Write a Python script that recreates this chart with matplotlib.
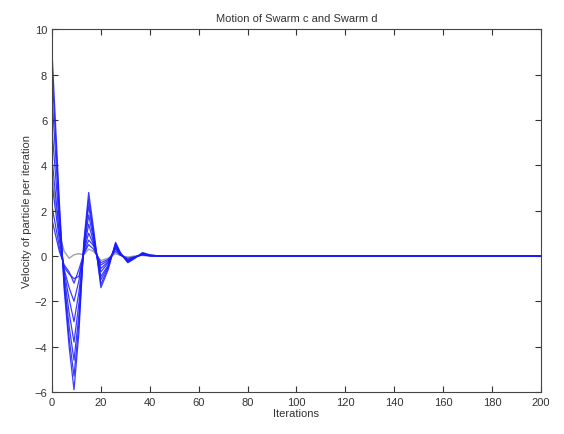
import matplotlib
matplotlib.use("Agg")
import matplotlib.pyplot as plt

plt.rcParams['font.family'] = ['Liberation Sans', 'DejaVu Sans']

# iterations sampled at the turning points of the damped swing
iters = [0, 3, 5, 7, 9, 11, 13, 15, 17, 20, 23, 26, 28, 31, 34, 37, 40, 44, 50, 200]

swarm_c1 = [9.0, 2.4, -1.5, -4.0, -5.9, -3.4, 0.6, 2.8, 1.2, -1.4, -0.6, 0.6, 0.15, -0.3, -0.1, 0.15, 0.05, 0.0, 0.0, 0.0]
swarm_c2 = [8.2, 2.1, -1.3, -3.6, -5.3, -3.0, 0.5, 2.5, 1.0, -1.25, -0.5, 0.55, 0.1, -0.28, -0.08, 0.12, 0.03, 0.0, 0.0, 0.0]
swarm_c3 = [7.0, 1.8, -1.1, -3.1, -4.6, -2.6, 0.4, 2.2, 0.9, -1.05, -0.45, 0.5, 0.1, -0.25, -0.07, 0.1, 0.02, 0.0, 0.0, 0.0]
swarm_c4 = [5.6, 1.4, -0.9, -2.5, -3.8, -2.1, 0.3, 1.8, 0.75, -0.9, -0.4, 0.45, 0.1, -0.22, -0.06, 0.1, 0.02, 0.0, 0.0, 0.0]
swarm_d1 = [4.3, 1.0, -0.7, -1.9, -2.9, -1.6, 0.2, 1.4, 0.6, -0.7, -0.3, 0.4, 0.08, -0.2, -0.05, 0.08, 0.02, 0.0, 0.0, 0.0]
swarm_d2 = [3.2, 0.7, -0.6, -1.4, -2.0, -1.1, 0.2, 1.0, 0.5, -0.55, -0.25, 0.35, 0.05, -0.18, -0.05, 0.07, 0.01, 0.0, 0.0, 0.0]
swarm_d3 = [2.2, 0.4, -0.5, -0.8, -1.0, -0.9, 0.1, 0.7, 0.45, -0.4, -0.2, 0.3, 0.05, -0.15, -0.04, 0.06, 0.01, 0.0, 0.0, 0.0]
swarm_d4 = [1.6, 0.2, -0.4, -0.7, -1.2, -0.6, 0.1, 0.5, 0.3, -0.3, -0.15, 0.2, 0.03, -0.1, -0.03, 0.04, 0.0, 0.0, 0.0, 0.0]
swarm_g = [3.6, 1.0, 0.2, -0.1, 0.05, 0.1, 0.05, 0.3, 0.2, -0.2, -0.1, 0.1, 0.02, -0.05, 0.0, 0.02, 0.0, 0.0, 0.0, 0.0]

blue_series = [swarm_c1, swarm_c2, swarm_c3, swarm_c4, swarm_d1, swarm_d2, swarm_d3, swarm_d4]

fig = plt.figure(figsize=(5.64, 4.35), dpi=100)
ax = fig.add_axes([0.0922, 0.0966, 0.867, 0.834])

ax.plot(iters, swarm_g, color='#a0a0a8', lw=1.0)
for s in blue_series:
    ax.plot(iters, s, color='#1a1aff', lw=0.9, alpha=0.85)

ax.set_xlim(0, 200)
ax.set_ylim(-6, 10)
ax.set_xticks(range(0, 201, 20))
ax.set_yticks(range(-6, 11, 2))
ax.tick_params(direction='in', top=True, right=True, labelsize=8, colors='#333333', length=4)
for sp in ax.spines.values():
    sp.set_color('#444444')
    sp.set_linewidth(0.8)

ax.set_title("Motion of Swarm c and Swarm d", fontsize=8, color='#333333')
ax.set_xlabel("Iterations", fontsize=8, color='#333333', labelpad=1)
ax.set_ylabel("Velocity of particle per iteration", fontsize=8, color='#333333', labelpad=2)

fig.savefig("out.png", dpi=100)
